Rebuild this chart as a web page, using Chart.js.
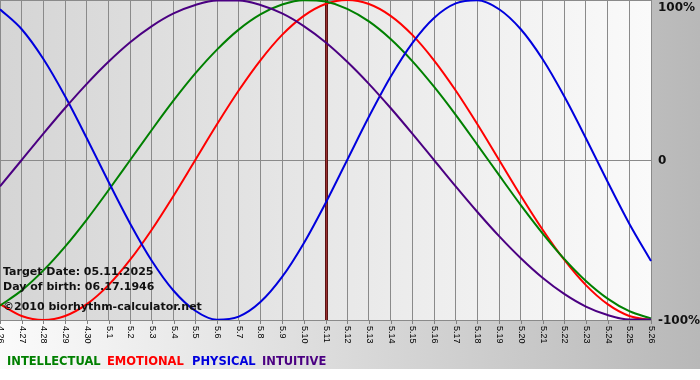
<!DOCTYPE html>
<html>
<head>
<meta charset="utf-8">
<script src="https://cdn.jsdelivr.net/npm/chart.js@4/dist/chart.umd.min.js"></script>
<style>
html,body{margin:0;padding:0;background:#fff;}
canvas{display:block;}
</style>
</head>
<body>
<canvas id="c" width="700" height="380"></canvas>
<script>
const dates = ["4.26","4.27","4.28","4.29","4.30","5.1","5.2","5.3","5.4","5.5","5.6","5.7","5.8","5.9","5.10","5.11","5.12","5.13","5.14","5.15","5.16","5.17","5.18","5.19","5.20","5.21","5.22","5.23","5.24","5.25","5.26"];
const physical = [0.942,0.817,0.631,0.398,0.136,-0.136,-0.398,-0.631,-0.817,-0.942,-0.998,-0.979,-0.888,-0.731,-0.520,-0.270,0.000,0.270,0.520,0.731,0.888,0.979,0.998,0.942,0.817,0.631,0.398,0.136,-0.136,-0.398,-0.631];
const emotional = [-0.901,-0.975,-1.000,-0.975,-0.901,-0.782,-0.623,-0.434,-0.223,0.000,0.223,0.434,0.623,0.782,0.901,0.975,1.000,0.975,0.901,0.782,0.623,0.434,0.223,0.000,-0.223,-0.434,-0.623,-0.782,-0.901,-0.975,-1.000];
const intellectual = [-0.910,-0.815,-0.690,-0.541,-0.372,-0.189,0.000,0.189,0.372,0.541,0.690,0.815,0.910,0.972,0.999,0.990,0.945,0.866,0.756,0.618,0.458,0.282,0.095,-0.095,-0.282,-0.458,-0.618,-0.756,-0.866,-0.945,-0.990];
const intuitive = [-0.165,0.000,0.165,0.325,0.476,0.614,0.736,0.837,0.916,0.969,0.997,0.997,0.969,0.916,0.837,0.736,0.614,0.476,0.325,0.165,0.000,-0.165,-0.325,-0.476,-0.614,-0.736,-0.837,-0.916,-0.969,-0.997,-0.997];
const yTickValues = [1, 0, -1];
const yTickLabels = ["100%", "0", "-100%"];
const targetIndex = 15;
const infoLines = ["Target Date: 05.11.2025", "Day of birth: 06.17.1946", "\u00A92010 biorhythm-calculator.net"];
const legendNames = ["INTELLECTUAL", "EMOTIONAL", "PHYSICAL", "INTUITIVE"];
const legendColors = ["#008000", "#ff0000", "#0000dd", "#4b0082"];

const decor = {
  id: 'decor',
  beforeDraw(chart) {
    const ctx = chart.ctx, a = chart.chartArea;
    ctx.save();
    ctx.fillStyle = '#ffffff';
    ctx.fillRect(0, 0, chart.width, chart.height);
    let g = ctx.createLinearGradient(0, 0, chart.width, 0);
    g.addColorStop(0, '#fbfbfb');
    g.addColorStop(1, '#b8b8b8');
    ctx.fillStyle = g;
    ctx.fillRect(0, 0, chart.width, 369);
    g = ctx.createLinearGradient(a.left, 0, a.right, 0);
    g.addColorStop(0, '#d5d5d5');
    g.addColorStop(1, '#fafafa');
    ctx.fillStyle = g;
    ctx.fillRect(a.left, a.top, a.right - a.left, a.bottom - a.top);
    ctx.restore();
  },
  beforeDatasetsDraw(chart) {
    const ctx = chart.ctx, a = chart.chartArea, xs = chart.scales.x;
    const x = Math.round(xs.getPixelForValue(targetIndex));
    ctx.save();
    ctx.fillStyle = '#5a1414';
    ctx.fillRect(x - 1, a.top, 3, a.bottom - a.top);
    ctx.fillStyle = '#9a3030';
    ctx.fillRect(x, a.top, 1, a.bottom - a.top);
    ctx.restore();
  },
  afterDraw(chart) {
    const ctx = chart.ctx, a = chart.chartArea, xs = chart.scales.x, ys = chart.scales.y;
    ctx.save();
    ctx.strokeStyle = '#808080';
    ctx.lineWidth = 1;
    ctx.fillStyle = '#000';
    ctx.font = '9px "Liberation Sans", Arial, sans-serif';
    ctx.textAlign = 'left';
    ctx.textBaseline = 'middle';
    dates.forEach((d, i) => {
      const x = Math.round(xs.getPixelForValue(i)) + 0.5;
      ctx.beginPath();
      ctx.moveTo(x, a.bottom);
      ctx.lineTo(x, a.bottom + 4);
      ctx.stroke();
      ctx.save();
      ctx.translate(x, a.bottom + 6);
      ctx.rotate(Math.PI / 2);
      ctx.fillText(d, 0, 0);
      ctx.restore();
    });
    ctx.font = 'bold 12px "DejaVu Sans", Verdana, sans-serif';
    ctx.fillStyle = '#111';
    yTickValues.forEach((v, i) => {
      ctx.fillText(yTickLabels[i], 658, Math.min(Math.max(ys.getPixelForValue(v), 7), 321) + 1);
    });
    ctx.font = 'bold 11px "DejaVu Sans", Verdana, sans-serif';
    ctx.fillStyle = '#111';
    ctx.fillText(infoLines[0], 3, 272);
    ctx.fillText(infoLines[1], 3, 287);
    ctx.fillText(infoLines[2], 3, 307);
    ctx.font = 'bold 11.5px "DejaVu Sans", Verdana, sans-serif';
    const lx = [7, 107, 192, 262];
    legendNames.forEach((n, i) => {
      ctx.fillStyle = legendColors[i];
      ctx.fillText(n, lx[i], 362);
    });
    ctx.restore();
  }
};

new Chart(document.getElementById('c'), {
  type: 'line',
  data: {
    labels: dates,
    datasets: [
      { label: legendNames[3], data: intuitive, borderColor: '#4b0082' },
      { label: legendNames[2], data: physical, borderColor: '#0000dd' },
      { label: legendNames[0], data: intellectual, borderColor: '#008000' },
      { label: legendNames[1], data: emotional, borderColor: '#ff0000' }
    ]
  },
  options: {
    responsive: false,
    animation: false,
    events: [],
    layout: { padding: { left: 0, top: 0, right: 49, bottom: 60 }, autoPadding: false },
    elements: {
      line: { borderWidth: 2, cubicInterpolationMode: 'monotone', fill: false },
      point: { radius: 0 }
    },
    plugins: { legend: { display: false }, tooltip: { enabled: false } },
    scales: {
      x: {
        offset: false,
        grid: { color: '#8a8a8a', lineWidth: 1, drawTicks: false },
        border: { display: false },
        ticks: { display: false }
      },
      y: {
        min: -1, max: 1,
        grid: { color: '#8a8a8a', lineWidth: 1, drawTicks: false },
        border: { display: false },
        ticks: { display: false, stepSize: 1 }
      }
    }
  },
  plugins: [decor]
});
</script>
</body>
</html>
